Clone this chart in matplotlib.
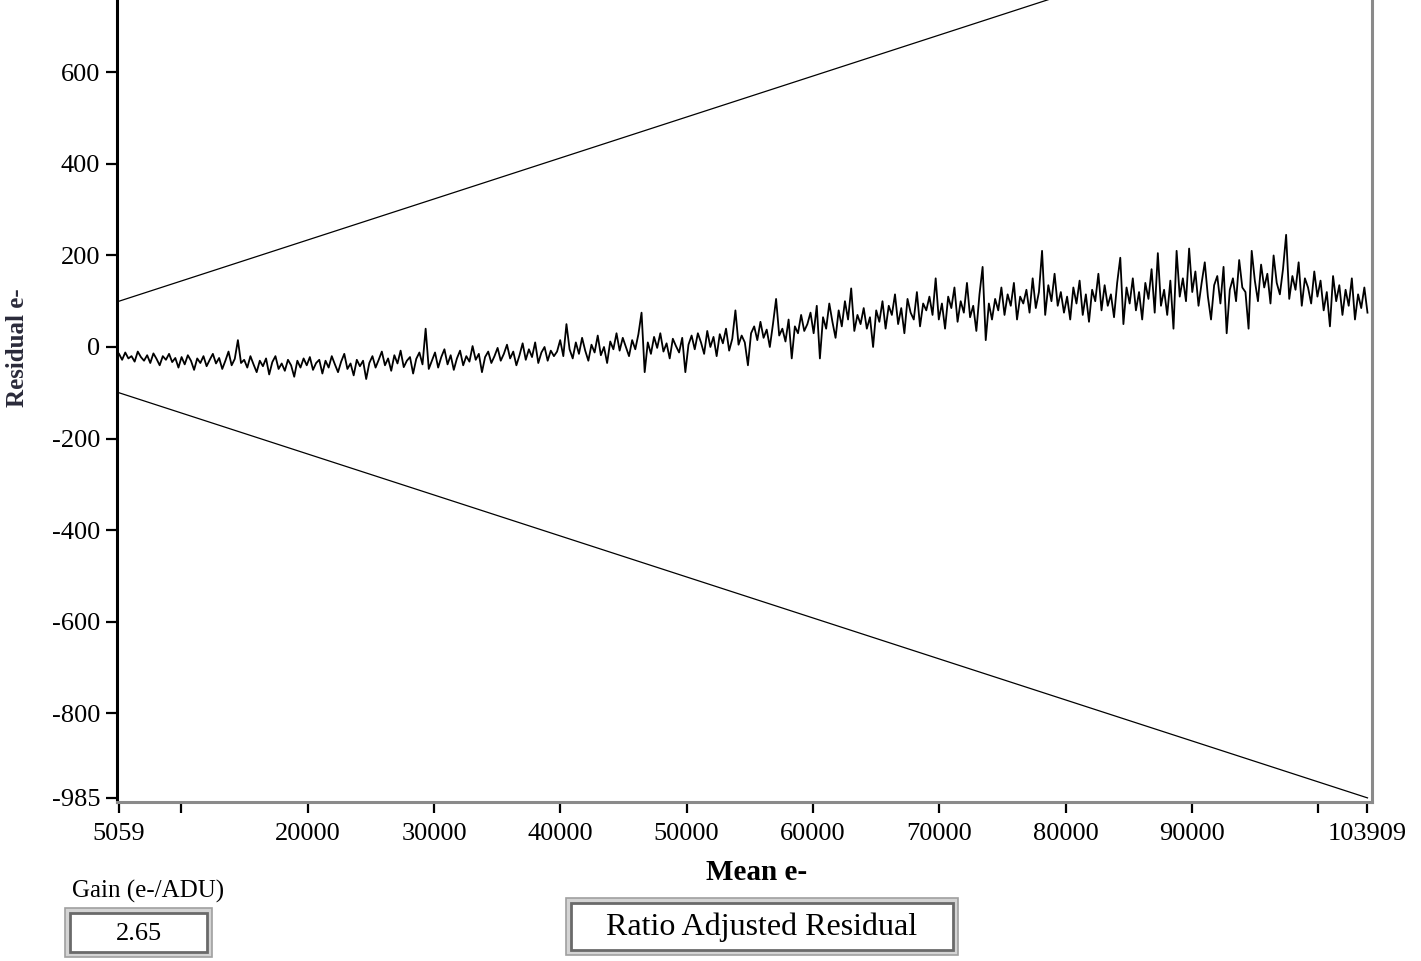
import matplotlib
matplotlib.use("Agg")
import matplotlib.pyplot as plt
import numpy as np
from matplotlib.patches import Rectangle

matplotlib.rcParams.update({
    'font.family': ['Liberation Serif', 'DejaVu Serif'],
})

# mean e- range of the residual trace
mean_first = 5059
mean_last = 103909

# residual e- left to right
residual = [
    -15, -28, -12, -25, -20, -32, -10, -22, -30, -18, -35, -14, -26, -40, -20, -28, -15, -33, -24, -45,
    -22, -38, -18, -30, -50, -25, -35, -20, -42, -28, -15, -36, -24, -48, -30, -10, -40, -26, 15, -35,
    -28, -45, -20, -38, -55, -30, -42, -25, -60, -33, -20, -48, -36, -52, -28, -40, -65, -30, -45, -25,
    -40, -22, -50, -35, -28, -58, -30, -45, -20, -38, -55, -32, -15, -48, -36, -62, -28, -42, -30, -70,
    -35, -20, -45, -28, -10, -40, -25, -52, -18, -36, -8, -44, -30, -22, -58, -26, -12, -38, 40, -48,
    -30, -12, -45, -22, -5, -38, -18, -50, -25, -8, -40, -20, -32, 2, -28, -15, -55, -22, -10, -35,
    -20, -2, -30, -15, 5, -25, -10, -40, -18, 8, -28, -5, -22, 10, -35, -12, 0, -30, -8, -20,
    -10, 15, -20, 50, -5, -25, 10, -15, 20, -8, -30, 5, -12, 25, -18, 0, -35, 12, -5, 30,
    -8, 20, 0, -20, 15, -5, 28, 75, -55, 10, -15, 22, -2, 30, -10, 8, -25, 18, 2, -12,
    20, -55, 5, 25, -5, 30, 10, -15, 35, 0, 22, -20, 28, 8, 40, -8, 18, 80, 5, 25,
    10, -40, 30, 45, 15, 55, 20, 38, 0, 50, 105, 25, 40, 12, 60, -25, 45, 30, 70, 35,
    50, 75, 30, 90, -25, 65, 40, 95, 55, 20, 80, 45, 100, 60, 128, 35, 70, 50, 85, 40,
    65, 0, 80, 55, 100, 40, 90, 70, 115, 50, 85, 30, 105, 75, 60, 120, 45, 95, 80, 110,
    70, 150, 60, 95, 40, 110, 85, 130, 55, 100, 75, 140, 65, 90, 35, 115, 175, 15, 95, 60,
    105, 80, 130, 70, 115, 90, 140, 60, 110, 95, 125, 75, 150, 85, 120, 210, 70, 135, 100, 160,
    90, 120, 75, 110, 60, 130, 95, 145, 70, 115, 55, 125, 100, 160, 80, 135, 90, 115, 65, 140,
    195, 50, 130, 95, 150, 80, 120, 60, 140, 105, 170, 75, 205, 90, 125, 70, 145, 40, 210, 110,
    150, 100, 215, 120, 165, 90, 140, 185, 110, 60, 135, 155, 95, 175, 30, 125, 150, 100, 190, 130,
    120, 40, 210, 145, 100, 180, 130, 160, 95, 200, 140, 115, 170, 245, 105, 155, 125, 185, 90, 150,
    130, 95, 165, 110, 145, 80, 120, 45, 155, 100, 135, 70, 125, 90, 150, 60, 115, 85, 130, 75,
]

# limit lines
limit_x = [5059, 103909]
limit_hi = [100, 985]
limit_lo = [-100, -985]

xticks = [5059, 10000, 20000, 30000, 40000, 50000, 60000, 70000, 80000, 90000, 100000, 103909]
xlabels = ['5059', '', '20000', '30000', '40000', '50000', '60000', '70000', '80000', '90000', '', '103909']
yticks = [-985, -800, -600, -400, -200, 0, 200, 400, 600]
ylabels = ['-985', '-800', '-600', '-400', '-200', '0', '200', '400', '600']

gain_value = '2.65'

W, H = 1421, 961
fig = plt.figure(figsize=(W / 100, H / 100), dpi=100)
ax = fig.add_axes([117 / W, 1 - 802 / H, (1372 - 117) / W, 802 / H])

mean_x = np.linspace(mean_first, mean_last, len(residual))
ax.plot(mean_x, residual, color='black', lw=1.3)
ax.plot(limit_x, limit_hi, color='black', lw=0.9)
ax.plot(limit_x, limit_lo, color='black', lw=0.9)

ax.set_xlim(4901, 104267)
ax.set_ylim(-994, 758)

ax.spines['top'].set_visible(False)
ax.spines['left'].set_color('black')
ax.spines['left'].set_linewidth(2.2)
ax.spines['bottom'].set_color('#8a8a8a')
ax.spines['bottom'].set_linewidth(2.2)
ax.spines['right'].set_color('#8a8a8a')
ax.spines['right'].set_linewidth(2.2)

ax.set_xticks(xticks)
ax.set_xticklabels(xlabels)
ax.set_yticks(yticks)
ax.set_yticklabels(ylabels)
ax.tick_params(axis='both', direction='out', length=8, width=1.6, color='black',
               labelsize=19)
ax.tick_params(axis='x', pad=7)
ax.tick_params(axis='y', pad=4)

fig.text(757 / W, 1 - 873 / H, 'Mean e-', ha='center', va='center',
         fontsize=21, fontweight='bold')
fig.text(18 / W, 1 - 348 / H, 'Residual e-', ha='center', va='center',
         rotation=90, fontsize=18, fontweight='bold', color='#2a2a3a')


def box(x0, y0, x1, y1, text, size):
    # beveled LabVIEW style indicator
    fig.patches.append(Rectangle((x0 / W, 1 - y1 / H), (x1 - x0) / W, (y1 - y0) / H,
                                 transform=fig.transFigure, facecolor='#d4d4d4',
                                 edgecolor='#a0a0a0', lw=1.2))
    fig.patches.append(Rectangle(((x0 + 5) / W, 1 - (y1 - 5) / H), (x1 - x0 - 10) / W,
                                 (y1 - y0 - 10) / H, transform=fig.transFigure,
                                 facecolor='white', edgecolor='#6a6a6a', lw=2))
    fig.text((x0 + x1) / 2 / W, 1 - (y0 + y1 + 2) / 2 / H, text, ha='center', va='center',
             fontsize=size)


fig.text(148 / W, 1 - 891 / H, 'Gain (e-/ADU)', ha='center', va='center', fontsize=18)
box(65, 908, 212, 957, gain_value, 19)
box(566, 898, 958, 955, 'Ratio Adjusted Residual', 23)

plt.savefig('out.png', dpi=100)
